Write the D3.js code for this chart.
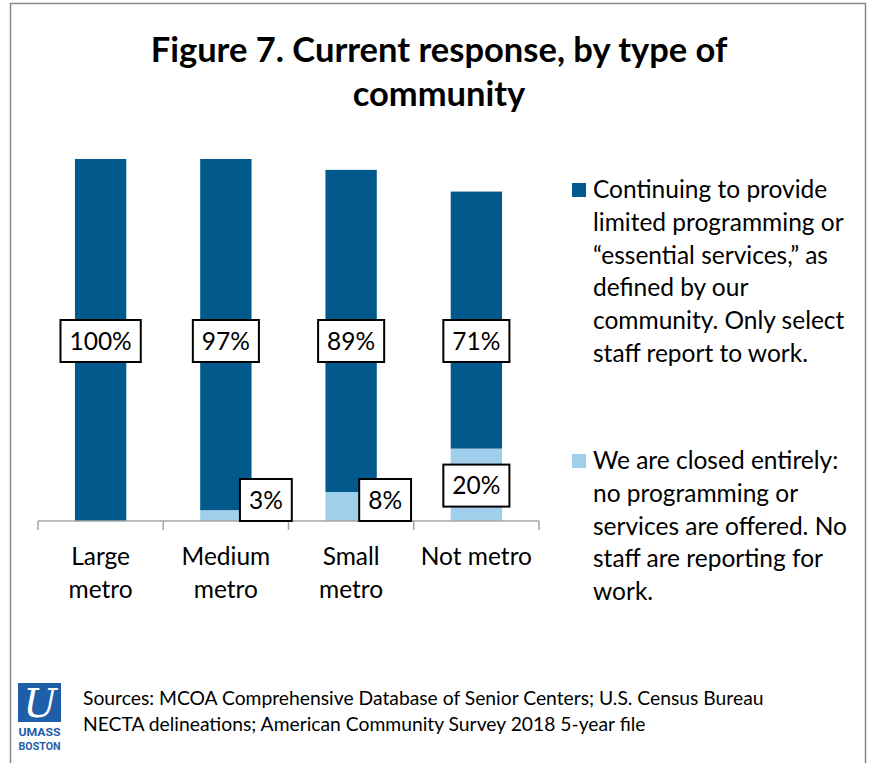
<!DOCTYPE html>
<html>
<head>
<meta charset="utf-8">
<script src="https://cdn.jsdelivr.net/npm/d3@7"></script>
<style>
  html, body { margin: 0; padding: 0; background: #fff; }
  svg { display: block; font-family: Lato, "Open Sans", sans-serif; }
</style>
</head>
<body>
<svg id="chart" width="872" height="763"></svg>
<script>
// Community types along the x axis (two-line labels)
const categories = ["Large metro", "Medium metro", "Small metro", "Not metro"];
const categoryLines = [["Large", "metro"], ["Medium", "metro"], ["Small", "metro"], ["Not metro"]];

// Share of senior centers by current response (%)
const essentialServices = [100, 97, 89, 71];
const closedEntirely = [0, 3, 8, 20];

const seriesNames = [
  "Continuing to provide limited programming or \u201cessential services,\u201d as defined by our community. Only select staff report to work.",
  "We are closed entirely: no programming or services are offered. No staff are reporting for work."
];
const legendLines = [
  ["Continuing to provide", "limited programming or", "\u201cessential services,\u201d as", "defined by our", "community. Only select", "staff report to work."],
  ["We are closed entirely:", "no programming or", "services are offered. No", "staff are reporting for", "work."]
];

const titleLines = ["Figure 7. Current response, by type of", "community"];
const sourceLines = [
  "Sources: MCOA Comprehensive Database of Senior Centers; U.S. Census Bureau",
  "NECTA delineations; American Community Survey 2018 5-year file"
];

const colors = ["#02598c", "#9fcfeb"];

const svg = d3.select("#chart");

// Outer frame
svg.append("rect")
  .attr("x", 10.5).attr("y", 3.5)
  .attr("width", 855).attr("height", 800)
  .attr("fill", "#fff").attr("stroke", "#898989").attr("stroke-width", 1.5);

// Title
svg.append("g").selectAll("text").data(titleLines).join("text")
  .attr("x", 439).attr("y", (d, i) => 62 + i * 44)
  .attr("text-anchor", "middle")
  .attr("font-size", 34.5).attr("font-weight", "bold").attr("fill", "#000")
  .text(d => d);

// Scales
const x = d3.scaleBand().domain(categories).range([38, 539])
  .paddingInner(0.59).paddingOuter(0.295);
const y = d3.scaleLinear().domain([0, 100]).range([521, 159]);

// Stacked data
const rows = categories.map((c, i) => ({
  cat: c, closed: closedEntirely[i], essential: essentialServices[i]
}));
const stack = d3.stack().keys(["closed", "essential"])(rows);

const barG = svg.append("g");
stack.forEach((layer, li) => {
  barG.append("g").attr("fill", li === 0 ? colors[1] : colors[0])
    .selectAll("rect").data(layer).join("rect")
    .attr("x", d => x(d.data.cat))
    .attr("width", x.bandwidth())
    .attr("y", d => y(d[1]))
    .attr("height", d => y(d[0]) - y(d[1]));
});

// Category axis: baseline with tick marks at the category boundaries
const axisG = svg.append("g").attr("stroke", "#a6a6a6").attr("stroke-width", 1.5);
axisG.append("line")
  .attr("x1", x.range()[0]).attr("x2", x.range()[1])
  .attr("y1", y(0)).attr("y2", y(0));
d3.range(categories.length + 1).forEach(i => {
  const tx = x.range()[0] + i * x.step();
  axisG.append("line").attr("x1", tx).attr("x2", tx)
    .attr("y1", y(0)).attr("y2", y(0) + 9);
});

// Category labels
categories.forEach((c, i) => {
  svg.append("text")
    .attr("x", x(c) + x.bandwidth() / 2)
    .attr("text-anchor", "middle")
    .attr("font-size", 24.5).attr("fill", "#000")
    .selectAll("tspan").data(categoryLines[i]).join("tspan")
    .attr("x", x(c) + x.bandwidth() / 2)
    .attr("y", (d, j) => 565 + j * 33)
    .text(d => d);
});

// Boxed value labels
function boxedLabel(cx, cy, txt) {
  const g = svg.append("g");
  const rect = g.append("rect");
  const t = g.append("text")
    .attr("x", cx).attr("y", cy + 8.5)
    .attr("text-anchor", "middle")
    .attr("font-size", 24.5).attr("fill", "#000")
    .text(txt);
  const bb = t.node().getBBox();
  const padX = 9;
  rect.attr("x", cx - bb.width / 2 - padX)
    .attr("y", cy - 21)
    .attr("width", bb.width + 2 * padX)
    .attr("height", 42)
    .attr("fill", "#fff").attr("stroke", "#000").attr("stroke-width", 2);
}

// Horizontal nudges for the small "closed" labels so they clear the bar
const closedLabelShift = [0, 40, 34, 0];

rows.forEach((r, i) => {
  const cx = x(r.cat) + x.bandwidth() / 2;
  boxedLabel(cx, y(50) + 1, r.essential + "%");
  if (r.closed > 0) {
    const cy = r.closed >= 15 ? y(r.closed) + 37 : y(0) - 21;
    boxedLabel(cx + closedLabelShift[i], cy, r.closed + "%");
  }
});

// Legend
const legendTop = [190, 461];
legendLines.forEach((lines, si) => {
  const g = svg.append("g");
  g.append("rect")
    .attr("x", 572).attr("y", legendTop[si] - 7)
    .attr("width", 14).attr("height", 14)
    .attr("fill", colors[si]);
  g.append("text").attr("font-size", 24.5).attr("fill", "#000")
    .selectAll("tspan").data(lines).join("tspan")
    .attr("x", 593)
    .attr("y", (d, j) => legendTop[si] + 8 + j * 32.8)
    .text(d => d);
});

// Source note
svg.append("text").attr("font-size", 19.3).attr("fill", "#000")
  .selectAll("tspan").data(sourceLines).join("tspan")
  .attr("x", 83).attr("y", (d, i) => 705 + i * 26)
  .text(d => d);

// UMass Boston mark
const logo = svg.append("g");
logo.append("rect").attr("x", 18).attr("y", 683).attr("width", 43).attr("height", 39)
  .attr("fill", "#1f5ea8");
logo.append("text").attr("x", 40).attr("y", 717)
  .attr("text-anchor", "middle")
  .attr("font-family", "DejaVu Serif").attr("font-style", "italic")
  .attr("font-size", 40).attr("fill", "#fff")
  .text("U");
logo.append("text").attr("x", 39.5).attr("y", 736)
  .attr("text-anchor", "middle").attr("font-family", "Roboto")
  .attr("font-weight", "bold").attr("font-size", 11).attr("fill", "#1f5ea8")
  .attr("textLength", 42).attr("lengthAdjust", "spacingAndGlyphs")
  .text("UMASS");
logo.append("text").attr("x", 39.5).attr("y", 750)
  .attr("text-anchor", "middle").attr("font-family", "Roboto")
  .attr("font-weight", "bold").attr("font-size", 11).attr("fill", "#1f5ea8")
  .attr("textLength", 42).attr("lengthAdjust", "spacingAndGlyphs")
  .text("BOSTON");
</script>
</body>
</html>
